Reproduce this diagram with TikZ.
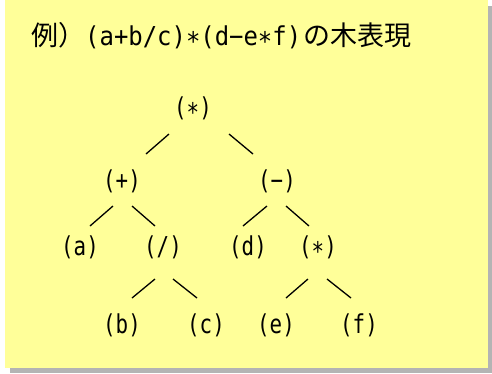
\documentclass[tikz,border=0pt]{standalone}
\usepackage{fontspec}
\setmainfont{Noto Sans CJK JP}
\newfontfamily\lat[FakeStretch=0.92]{DejaVu Sans Mono}
\newfontfamily\latnode[FakeStretch=0.8]{DejaVu Sans Mono}
\newcommand\cjkpart[1]{{\fontsize{27}{32}\selectfont #1}}
\definecolor{notey}{HTML}{FFFF99}
\definecolor{shadowg}{HTML}{B4B4B4}
\begin{document}
\begin{tikzpicture}[x=1pt,y=-1pt,
  lbl/.style={inner sep=0pt,font=\fontsize{26}{30}\selectfont\latnode},
  edge/.style={line width=1.3pt}]
\useasboundingbox (0,0) rectangle (492,373);
\fill[shadowg] (10,6) rectangle (492,373);
\fill[notey] (5,0) rectangle (488,368);
\node[inner sep=0pt,anchor=west,font=\fontsize{26}{30}\selectfont] (title) at (31,36) {\cjkpart{例）}{\lat (a+b/c)∗(d−e∗f)}\hspace{2pt}\cjkpart{の木表現}};
\node[lbl] (root) at (193,108) {(∗)};
\node[lbl] (plus) at (122,181) {(+)};
\node[lbl] (minus) at (277,181) {(−)};
\node[lbl] (a) at (80,247) {(a)};
\node[lbl] (div) at (163,247) {(/)};
\node[lbl] (d) at (248,247) {(d)};
\node[lbl] (mul) at (318,247) {(∗)};
\node[lbl] (b) at (122,325) {(b)};
\node[lbl] (c) at (206,325) {(c)};
\node[lbl] (e) at (276,325) {(e)};
\node[lbl] (f) at (359,325) {(f)};
\draw[edge] ([shift={(24,-27)}]plus.center) -- ([shift={(-24,26)}]root.center);
\draw[edge] ([shift={(36,26)}]root.center) -- ([shift={(-24,-27)}]minus.center);
\draw[edge] ([shift={(10,-21)}]a.center) -- ([shift={(-9,25)}]plus.center);
\draw[edge] ([shift={(10,25)}]plus.center) -- ([shift={(-8,-21)}]div.center);
\draw[edge] ([shift={(-5,-21)}]d.center) -- ([shift={(-10,25)}]minus.center);
\draw[edge] ([shift={(9,25)}]minus.center) -- ([shift={(-9,-21)}]mul.center);
\draw[edge] ([shift={(10,-27)}]b.center) -- ([shift={(-8,32)}]div.center);
\draw[edge] ([shift={(10,32)}]div.center) -- ([shift={(-9,-27)}]c.center);
\draw[edge] ([shift={(10,-27)}]e.center) -- ([shift={(-10,32)}]mul.center);
\draw[edge] ([shift={(9,32)}]mul.center) -- ([shift={(-8,-27)}]f.center);
\end{tikzpicture}
\end{document}
